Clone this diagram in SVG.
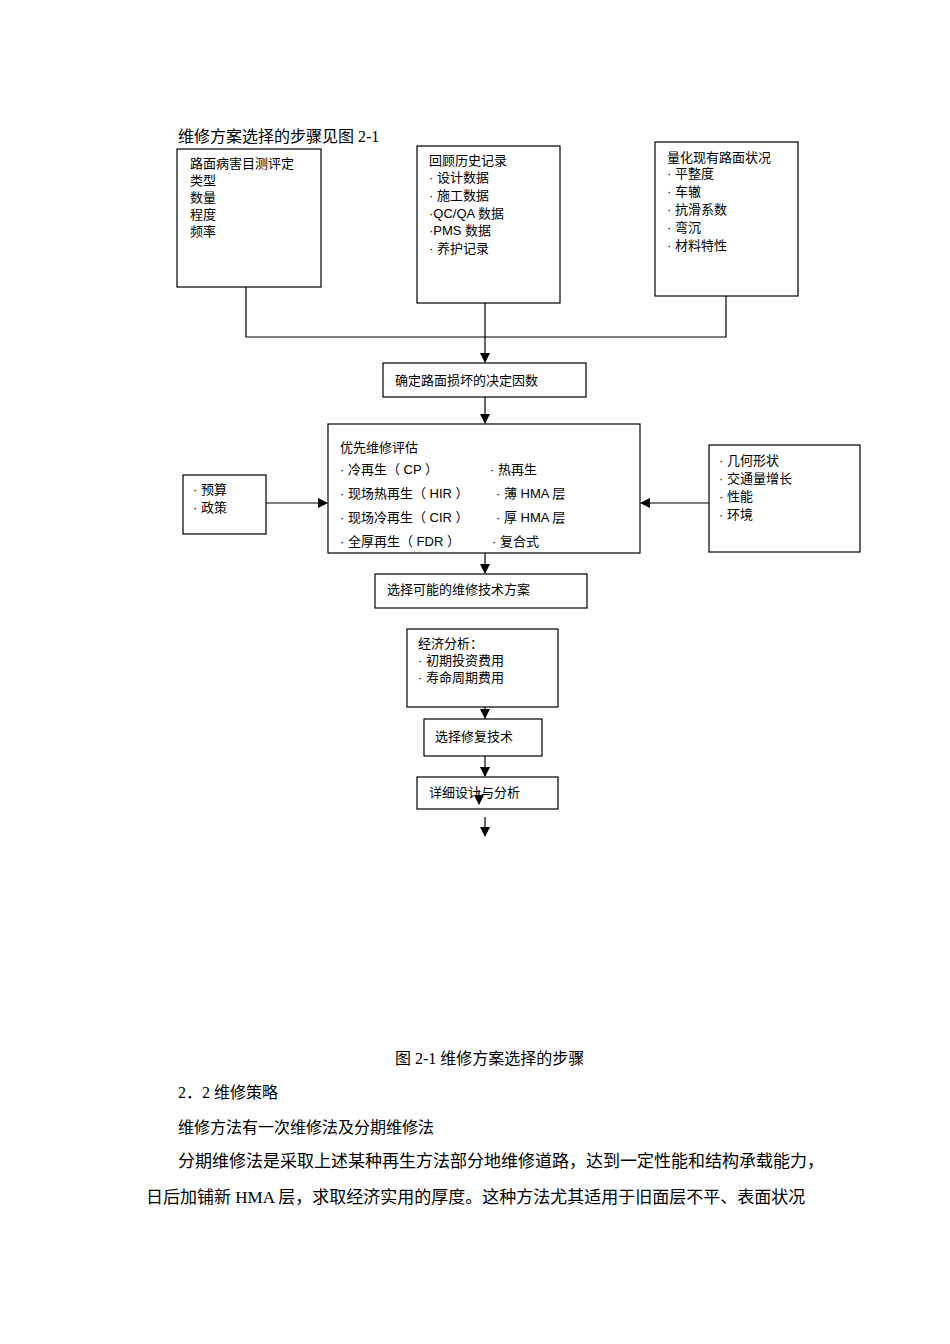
<svg xmlns="http://www.w3.org/2000/svg" width="950" height="1344" viewBox="0 0 950 1344">
<style>
text{font-family:"Liberation Serif","Noto Sans CJK SC",serif;font-size:14px;fill:#000}
.b{fill:#fff;stroke:#000;stroke-width:1.2}
.s{font-family:"Liberation Sans","Noto Sans CJK SC",sans-serif;font-size:13px}
.p{font-family:"Liberation Serif","Noto Sans CJK SC",serif;font-size:16px}
.q{font-family:"Liberation Serif","Noto Sans CJK SC",serif;font-size:17px}
line,polyline{stroke:#000;stroke-width:1.2;fill:none}
</style>
<defs><marker id="a" markerWidth="10" markerHeight="10" refX="9" refY="5" orient="auto" markerUnits="userSpaceOnUse"><path d="M0,0L10,5L0,10z" fill="#000"/></marker></defs>
<rect width="950" height="1344" fill="#fff"/>
<text x="178" y="142" class="p">维修方案选择的步骤见图 2-1</text>
<g id="n1"><rect class="b" x="177" y="149" width="144" height="138"/>
<text class="s" x="190" y="168">路面病害目测评定</text><text class="s" x="190" y="185">类型</text><text class="s" x="190" y="202">数量</text><text class="s" x="190" y="219">程度</text><text class="s" x="190" y="236">频率</text></g>
<g id="n2"><rect class="b" x="417" y="146" width="143" height="157"/>
<text class="s" x="429" y="165">回顾历史记录</text><text class="s" x="429" y="182">· 设计数据</text><text class="s" x="429" y="200">· 施工数据</text><text class="s" x="429" y="218">·QC/QA 数据</text><text class="s" x="429" y="235">·PMS 数据</text><text class="s" x="429" y="253">· 养护记录</text></g>
<g id="n3"><rect class="b" x="655" y="142" width="143" height="154"/>
<text class="s" x="667" y="162">量化现有路面状况</text><text class="s" x="667" y="178">· 平整度</text><text class="s" x="667" y="196">· 车辙</text><text class="s" x="667" y="214">· 抗滑系数</text><text class="s" x="667" y="232">· 弯沉</text><text class="s" x="667" y="250">· 材料特性</text></g>
<g id="n4"><rect class="b" x="383" y="363" width="203" height="34"/>
<text class="s" x="395" y="385">确定路面损坏的决定因数</text></g>
<g id="n5"><rect class="b" x="328" y="424" width="312" height="129"/>
<text class="s" x="340" y="452">优先维修评估</text>
<text class="s" x="340" y="474">· 冷再生（ CP ）</text><text class="s" x="490" y="474">· 热再生</text>
<text class="s" x="340" y="498">· 现场热再生（ HIR ）</text><text class="s" x="496" y="498">· 薄 HMA 层</text>
<text class="s" x="340" y="522">· 现场冷再生（ CIR ）</text><text class="s" x="496" y="522">· 厚 HMA 层</text>
<text class="s" x="340" y="546">· 全厚再生（ FDR ）</text><text class="s" x="492" y="546">· 复合式</text></g>
<g id="n6"><rect class="b" x="183" y="475" width="83" height="59"/>
<text class="s" x="193" y="494">· 预算</text><text class="s" x="193" y="512">· 政策</text></g>
<g id="n7"><rect class="b" x="709" y="445" width="151" height="107"/>
<text class="s" x="719" y="465">· 几何形状</text><text class="s" x="719" y="483">· 交通量增长</text><text class="s" x="719" y="501">· 性能</text><text class="s" x="719" y="519">· 环境</text></g>
<g id="n8"><rect class="b" x="375" y="574" width="212" height="34"/>
<text class="s" x="387" y="594">选择可能的维修技术方案</text></g>
<g id="n9"><rect class="b" x="407" y="629" width="151" height="78"/>
<text class="s" x="418" y="648">经济分析：</text><text class="s" x="418" y="665">· 初期投资费用</text><text class="s" x="418" y="682">· 寿命周期费用</text></g>
<g id="n10"><rect class="b" x="424" y="719" width="118" height="37"/>
<text class="s" x="435" y="741">选择修复技术</text></g>
<g id="n11"><rect class="b" x="417" y="777" width="141" height="32"/>
<text class="s" x="429" y="797">详细设计与分析</text></g>
<g id="connectors">
<polyline points="246,287 246,337 726,337 726,296"/>
<line x1="485" y1="303" x2="485" y2="362" marker-end="url(#a)"/>
<line x1="485" y1="397" x2="485" y2="423" marker-end="url(#a)"/>
<line x1="266" y1="503" x2="327" y2="503" marker-end="url(#a)"/>
<line x1="709" y1="503" x2="641" y2="503" marker-end="url(#a)"/>
<line x1="485" y1="553" x2="485" y2="573" marker-end="url(#a)"/>
<line x1="485" y1="707" x2="485" y2="718" marker-end="url(#a)"/>
<line x1="485" y1="756" x2="485" y2="776" marker-end="url(#a)"/>
<line x1="479" y1="790" x2="479" y2="804" marker-end="url(#a)"/>
<line x1="485" y1="817" x2="485" y2="836" marker-end="url(#a)"/>
</g>
<text x="395" y="1064" class="p">图 2-1 维修方案选择的步骤</text>
<text x="178" y="1098" class="p">2．2 维修策略</text>
<text x="178" y="1133" class="p">维修方法有一次维修法及分期维修法</text>
<text x="178" y="1167" class="q">分期维修法是采取上述某种再生方法部分地维修道路，达到一定性能和结构承载能力，</text>
<text x="146" y="1203" class="q">日后加铺新 HMA 层，求取经济实用的厚度。这种方法尤其适用于旧面层不平、表面状况</text>
</svg>
